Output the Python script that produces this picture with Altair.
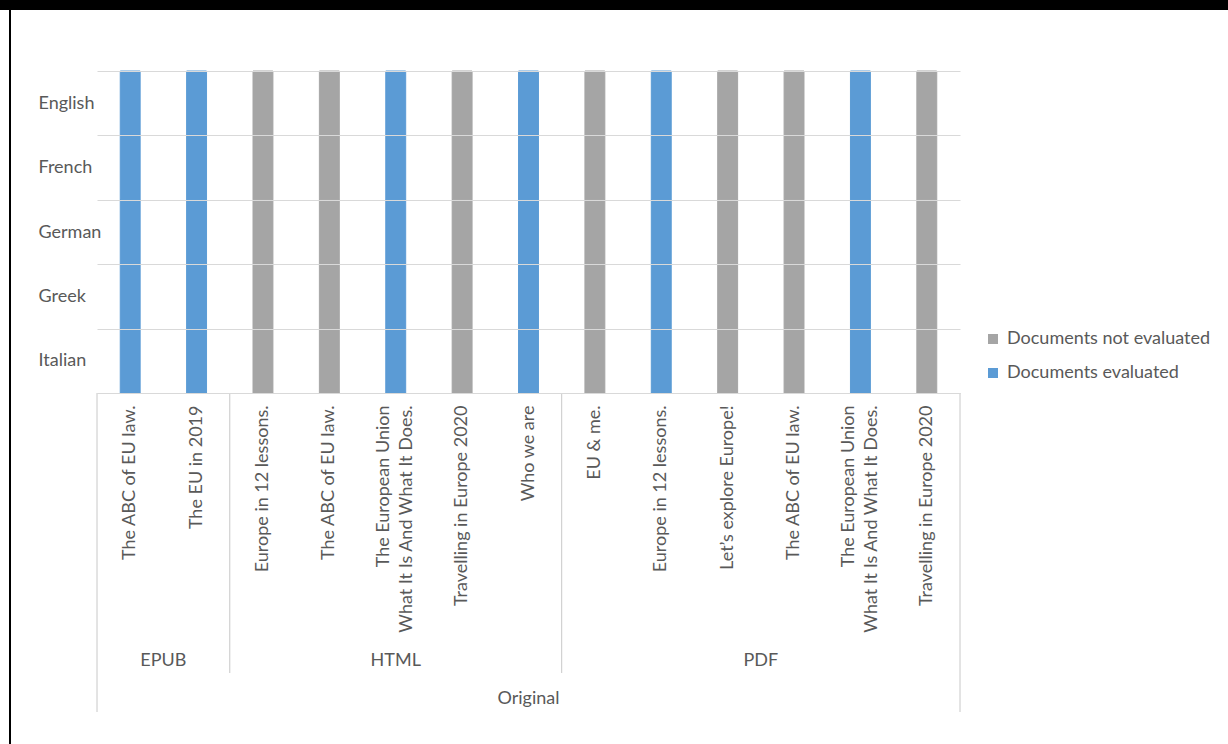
import math

import altair as alt
import pandas as pd

# Languages on the vertical axis, top to bottom
LANGUAGES = ["English", "French", "German", "Greek", "Italian"]

# Documents, grouped by format
FORMATS = ["EPUB", "EPUB",
           "HTML", "HTML", "HTML", "HTML", "HTML",
           "PDF", "PDF", "PDF", "PDF", "PDF", "PDF"]
TITLES = [
    "The ABC of EU law.",
    "The EU in 2019",
    "Europe in 12 lessons.",
    "The ABC of EU law.",
    "The European Union\nWhat It Is And What It Does.",
    "Travelling in Europe 2020",
    "Who we are",
    "EU & me.",
    "Europe in 12 lessons.",
    "Let’s explore Europe!",
    "The ABC of EU law.",
    "The European Union\nWhat It Is And What It Does.",
    "Travelling in Europe 2020",
]
EVALUATED = [1, 1, 0, 0, 1, 0, 1, 0, 1, 0, 0, 1, 0]
SOURCE = "Original"

STATUS = ["Documents not evaluated", "Documents evaluated"]
COLORS = ["#A5A5A5", "#5B9BD5"]

FONT = "Lato"
FS = 18
LINE_H = 23
TEXT_COLOR = "#595959"
GRID_COLOR = "#D9D9D9"
SEP_COLOR = "#C8C8C8"

W, H = 863, 322

# unique category keys: "<format>|<title>" with line breaks as "~"
keys = [f"{f}|{t.replace(chr(10), '~')}" for f, t in zip(FORMATS, TITLES)]

cells = pd.DataFrame(
    [{"key": k, "language": lang, "status": STATUS[e]}
     for k, e in zip(keys, EVALUATED) for lang in LANGUAGES]
)

x_scale = alt.Scale(domain=keys, paddingInner=0, paddingOuter=0)
color_scale = alt.Scale(domain=STATUS, range=COLORS)

label_expr = "split(slice(datum.label, indexof(datum.label, '|') + 1), '~')"
# two-line titles are shifted so that the pair of lines sits centred on its bar
two_line_offset = {"condition": {"test": "indexof(datum.value, '~') >= 0",
                                 "value": -LINE_H / 2},
                   "value": 0}

bars = alt.Chart(cells).mark_rect(width={"band": 0.3}, strokeWidth=1).encode(
    x=alt.X("key:N", scale=x_scale, axis=alt.Axis(
        title=None, labelAngle=-90, labelAlign="right", labelBaseline="middle",
        labelPadding=12, labelExpr=label_expr, labelFont=FONT, labelFontSize=FS,
        labelColor=TEXT_COLOR, labelLimit=400, labelLineHeight=LINE_H,
        labelOffset=two_line_offset,
        ticks=False, domainColor=GRID_COLOR, domainWidth=1)),
    y=alt.Y("language:N",
            scale=alt.Scale(domain=LANGUAGES, paddingInner=0, paddingOuter=0),
            axis=alt.Axis(title=None, tickBand="extent", grid=True,
                          gridColor=GRID_COLOR, gridWidth=1, ticks=False,
                          domain=False, labelAlign="left", labelPadding=59,
                          labelFont=FONT, labelFontSize=FS, labelColor=TEXT_COLOR)),
    color=alt.Color("status:N", scale=color_scale, legend=alt.Legend(
        title=None, orient="none", legendX=887, legendY=259,
        symbolType="square", symbolSize=100, symbolStrokeWidth=0,
        labelFont=FONT, labelFontSize=FS, labelColor=TEXT_COLOR,
        labelLimit=400, labelOffset=5, rowPadding=16)),
    stroke=alt.Stroke("status:N", scale=color_scale, legend=None),
)

# group boundaries below the axis
starts = [i for i in range(len(keys)) if i == 0 or FORMATS[i] != FORMATS[i - 1]]
inner_df = pd.DataFrame({"key": [keys[i] for i in starts[1:]]})
left_df = pd.DataFrame({"key": [keys[0]]})
right_df = pd.DataFrame({"key": [keys[-1]]})

inner_sep = alt.Chart(inner_df).mark_rule(color=SEP_COLOR, strokeWidth=1).encode(
    x=alt.X("key:N", scale=x_scale, bandPosition=0),
    y=alt.value(H), y2=alt.value(H + 280))
left_sep = alt.Chart(left_df).mark_rule(color=SEP_COLOR, strokeWidth=1).encode(
    x=alt.X("key:N", scale=x_scale, bandPosition=0),
    y=alt.value(H), y2=alt.value(H + 319))
right_sep = alt.Chart(right_df).mark_rule(color=SEP_COLOR, strokeWidth=1).encode(
    x=alt.X("key:N", scale=x_scale, bandPosition=1),
    y=alt.value(H), y2=alt.value(H + 319))


def centred_label(first, last, text, y):
    """Text centred over the documents first..last-1 of the x scale."""
    mid = (first + last) / 2
    idx = min(int(math.floor(mid)), len(keys) - 1)
    df = pd.DataFrame({"key": [keys[idx]], "label": [text]})
    return alt.Chart(df).mark_text(
        font=FONT, fontSize=FS, color=TEXT_COLOR, baseline="middle", align="center"
    ).encode(
        x=alt.X("key:N", scale=x_scale, bandPosition=mid - idx),
        y=alt.value(y), text="label:N")


# format labels, centred on each group
bounds = starts + [len(keys)]
group_layers = [centred_label(a, b, FORMATS[a], H + 268)
                for a, b in zip(bounds[:-1], bounds[1:])]
source_label = centred_label(0, len(keys), SOURCE, H + 306)

# frame: black band across the top and a thin line down the left edge
frame_df = pd.DataFrame({"k": [0]})
top_band = alt.Chart(frame_df).mark_rect(color="black").encode(
    x=alt.value(-97), x2=alt.value(1131), y=alt.value(-71), y2=alt.value(-61))
left_line = alt.Chart(frame_df).mark_rule(color="black", strokeWidth=2).encode(
    x=alt.value(-87), y=alt.value(-61), y2=alt.value(673))

chart = alt.layer(
    bars, inner_sep, left_sep, right_sep, *group_layers, source_label,
    top_band, left_line,
).properties(
    width=W, height=H,
    autosize=alt.AutoSizeParams(type="none"),
    padding={"left": 97, "top": 71, "right": 268, "bottom": 351},
    background="white",
).configure_view(stroke=None)

chart.save("out.html", embed_options={"renderer": "svg", "actions": False})
